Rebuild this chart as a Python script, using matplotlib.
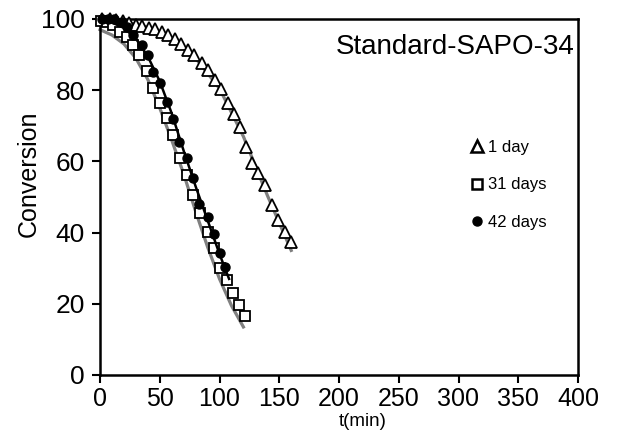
import matplotlib
matplotlib.use("Agg")
import matplotlib.pyplot as plt
from matplotlib.lines import Line2D

plt.rcParams['font.family'] = ['Liberation Sans', 'DejaVu Sans']

# --- datos ---
# 1 día (triángulos)
t_1d = [2, 8, 13, 19, 24, 30, 35, 41, 46, 52, 57, 63, 68, 74, 79, 85, 90, 96,
        101, 107, 112, 117, 122, 127, 132, 138, 144, 149, 155, 160]
c_1d = [100, 100, 99.8, 99.3, 98.8, 98.4, 97.9, 97.5, 97.2, 96.4, 95.4, 94.4,
        93.0, 91.4, 89.8, 87.6, 85.8, 83.0, 80.3, 76.5, 73.2, 69.8, 64.0, 59.6,
        56.7, 53.4, 47.8, 43.5, 40.2, 37.4]
# 31 días (cuadrados)
t_31d = [1, 6, 11, 17, 23, 28, 33, 39, 44, 50, 56, 61, 67, 73, 78, 84, 90, 95,
         100, 106, 111, 116, 121]
c_31d = [99.5, 99.2, 98.2, 96.3, 95.0, 92.7, 90.0, 85.5, 80.6, 76.4, 72.2, 67.4,
         61.0, 56.2, 50.6, 45.5, 40.2, 35.7, 30.0, 26.7, 23.0, 19.7, 16.6]
# 42 días (círculos)
t_42d = [2, 7, 12, 18, 23, 28, 35, 40, 44, 50, 56, 61, 66, 73, 78, 83, 90, 95,
         100, 105]
c_42d = [100, 100, 100, 99.2, 97.8, 95.5, 92.7, 90.0, 85.0, 82.0, 76.7, 72.0,
         65.4, 61.0, 55.3, 48.0, 44.4, 39.6, 34.3, 30.3]

# curvas de ajuste
t_fit_1d = [0, 20, 40, 60, 80, 100, 120, 140, 160]
c_fit_1d = [100, 99.3, 97.6, 94.5, 89.0, 80.5, 67.0, 50.5, 35.0]
t_fit_31d = [0, 10, 20, 30, 40, 50, 60, 70, 80, 90, 100, 110, 120]
c_fit_31d = [97, 95.5, 93, 89, 83, 75, 66, 56.5, 46, 36, 27, 19.5, 13.5]
t_fit_42d = [0, 10, 20, 30, 40, 50, 60, 70, 80, 90, 100, 108]
c_fit_42d = [99.5, 99, 97.5, 94.5, 89.5, 82.5, 73.5, 63, 53, 43.5, 34, 27]

x_ticks = [0, 50, 100, 150, 200, 250, 300, 350, 400]
y_ticks = [0, 20, 40, 60, 80, 100]

fig = plt.figure(figsize=(6.17, 4.46), dpi=100)
ax = fig.add_axes([100 / 617, 1 - 375 / 446, 478 / 617, 356 / 446])

gris = '#808080'
ax.plot(t_fit_1d, c_fit_1d, color=gris, lw=2.3, zorder=2, clip_on=False)
ax.plot(t_fit_31d, c_fit_31d, color=gris, lw=2.3, zorder=2, clip_on=False)

ax.plot(t_1d, c_1d, ls='none', marker='^', ms=8, mfc='white', mec='black',
        mew=1.3, zorder=3, clip_on=False)
ax.plot(t_31d, c_31d, ls='none', marker='s', ms=6.5, mfc='white', mec='black',
        mew=1.3, zorder=3, clip_on=False)
ax.plot(t_fit_42d, c_fit_42d, color='black', lw=1.8, zorder=4, clip_on=False)
ax.plot(t_42d, c_42d, ls='none', marker='o', ms=6.5, mfc='black', mec='black',
        zorder=5, clip_on=False)

ax.set_xlim(0, 400)
ax.set_ylim(0, 100)
ax.set_xticks(x_ticks)
ax.set_yticks(y_ticks)
ax.tick_params(direction='out', length=6, width=1.5, labelsize=18)
ax.tick_params(axis='x', pad=3)
ax.tick_params(axis='y', pad=5, labelsize=19)

for spine in ax.spines.values():
    spine.set_edgecolor('black')
    spine.set_linewidth(1.8)

# etiquetas de ejes (posición fija, como en el original)
fig.text(29 / 617, 1 - 174 / 446, 'Conversion', rotation=90,
         ha='center', va='center', fontsize=18)
fig.text(363 / 617, 1 - 422 / 446, 't(min)', ha='center', va='center',
         fontsize=13.5)

ax.text(0.994, 0.921, 'Standard-SAPO-34', transform=ax.transAxes,
        ha='right', va='center', fontsize=20)

handles = [
    Line2D([], [], ls='none', marker='^', ms=8, mfc='white', mec='black', mew=1.8),
    Line2D([], [], ls='none', marker='s', ms=7, mfc='white', mec='black', mew=1.8),
    Line2D([], [], ls='none', marker='o', ms=6.5, mfc='black', mec='black'),
]
ax.legend(handles, ['1 day', '31 days', '42 days'], loc='upper left',
          bbox_to_anchor=((455 - 100) / 478, (375 - 125) / 356),
          frameon=False, fontsize=12, handlelength=0.8, handletextpad=0.3,
          labelspacing=1.35)

fig.savefig('out.png', dpi=100)
